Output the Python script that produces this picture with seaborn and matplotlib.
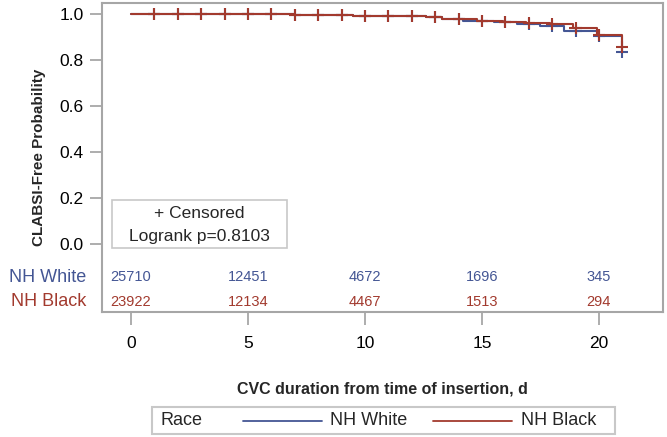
import numpy as np
import pandas as pd
import matplotlib
matplotlib.use("Agg")
import matplotlib.pyplot as plt
from matplotlib.lines import Line2D
from matplotlib.patches import Rectangle
import seaborn as sns

# ---------------- data ----------------
groups = ["NH White", "NH Black"]
colors = {"NH White": "#445694", "NH Black": "#A23A2E"}

white_times = [0, 4, 7, 9.5, 11.3, 12.6, 13.3, 14.2, 15.5, 16.5, 17.5, 18.5, 19.9, 21.0]
white_surv = [1.0, 0.998, 0.995, 0.993, 0.990, 0.985, 0.978, 0.968, 0.964, 0.955, 0.946, 0.928, 0.905, 0.833]
black_times = [0, 4, 7, 9.5, 11.3, 12.6, 13.3, 14.8, 15.9, 16.9, 17.9, 18.9, 19.9, 21.0]
black_surv = [1.0, 0.998, 0.995, 0.993, 0.990, 0.985, 0.979, 0.971, 0.965, 0.962, 0.955, 0.939, 0.910, 0.857]

censor_times = [1, 2, 3, 4, 5, 6, 7, 8, 9, 10, 11, 12, 13, 14, 15, 16, 17, 18, 19, 20, 21]

risk_times = [0, 5, 10, 15, 20]
white_at_risk = [25710, 12451, 4672, 1696, 345]
black_at_risk = [23922, 12134, 4467, 1513, 294]

x_ticks = [0, 5, 10, 15, 20]
y_ticks = [0.0, 0.2, 0.4, 0.6, 0.8, 1.0]

# ---------------- build frames ----------------
curve = pd.concat([
    pd.DataFrame({"t": white_times, "s": white_surv, "Race": "NH White"}),
    pd.DataFrame({"t": black_times, "s": black_surv, "Race": "NH Black"}),
], ignore_index=True)


def surv_at(times, surv, t):
    idx = np.searchsorted(times, t, side="right") - 1
    return surv[idx]


cens = pd.concat([
    pd.DataFrame({"t": censor_times,
                  "s": [surv_at(white_times, white_surv, c) for c in censor_times],
                  "Race": "NH White"}),
    pd.DataFrame({"t": censor_times,
                  "s": [surv_at(black_times, black_surv, c) for c in censor_times],
                  "Race": "NH Black"}),
], ignore_index=True)

# ---------------- plot ----------------
sns.set_style("white")
plt.rcParams["font.family"] = ["Liberation Sans", "DejaVu Sans"]

W, H = 667, 437
fig = plt.figure(figsize=(W / 100, H / 100), dpi=100)
ax = fig.add_axes([102 / W, 1 - 312 / H, (663 - 102) / W, (312 - 2.5) / H])

sns.lineplot(data=curve, x="t", y="s", hue="Race", hue_order=groups, palette=colors,
             drawstyle="steps-post", estimator=None, sort=False, linewidth=1.5,
             legend=False, ax=ax)
sns.scatterplot(data=cens, x="t", y="s", hue="Race", hue_order=groups, palette=colors,
                marker="+", s=75, linewidth=1.5, legend=False, ax=ax, zorder=3)

ax.set_xlim(-1.24, 22.74)
ax.set_ylim(-0.2957, 1.05)
ax.set_xticks(x_ticks)
ax.set_yticks(y_ticks)
ax.set_yticklabels([f"{v:.1f}" for v in y_ticks])
ax.tick_params(axis="both", which="both", bottom=True, left=True, direction="out",
               length=9, width=1.2, color="#A0A0A0", labelsize=12.5,
               labelcolor="black", pad=4)
ax.tick_params(axis="x", pad=8)
for sp in ax.spines.values():
    sp.set_color("#A6A6A6")
    sp.set_linewidth(1.5)
ax.set_xlabel("CVC duration from time of insertion, d", fontsize=11.5, fontweight="bold",
              labelpad=22)
ax.set_ylabel("CLABSI-Free Probability", fontsize=11, fontweight="bold", labelpad=10)

# at-risk table inside the frame
y_white = -0.143
y_black = -0.252
for t, n in zip(risk_times, white_at_risk):
    ax.text(t, y_white, str(n), color=colors["NH White"], fontsize=10.5,
            ha="center", va="center")
for t, n in zip(risk_times, black_at_risk):
    ax.text(t, y_black, str(n), color=colors["NH Black"], fontsize=10.5,
            ha="center", va="center")
fig.text(86 / W, 1 - 277 / H, "NH White", color=colors["NH White"], fontsize=13,
         ha="right", va="center")
fig.text(86 / W, 1 - 302 / H, "NH Black", color=colors["NH Black"], fontsize=13,
         ha="right", va="center")

# inset box
fig.patches.append(Rectangle((112 / W, 1 - 248 / H), (287 - 112) / W, (248 - 200) / H,
                             transform=fig.transFigure, facecolor="white",
                             edgecolor="#C8C8C8", linewidth=1.2, zorder=5))
fig.text(199.5 / W, 1 - 213 / H, "+ Censored", fontsize=12.5, ha="center", va="center",
         zorder=6)
fig.text(199.5 / W, 1 - 236 / H, "Logrank p=0.8103", fontsize=12.5, ha="center",
         va="center", zorder=6)

# legend box at bottom
fig.patches.append(Rectangle((152 / W, 1 - 434 / H), (615 - 152) / W, (434 - 407) / H,
                             transform=fig.transFigure, facecolor="white",
                             edgecolor="#C8C8C8", linewidth=1.5))
ly = 1 - 420.5 / H
fig.text(160 / W, ly, "Race", fontsize=13, ha="left", va="center")
fig.lines.append(Line2D([243 / W, 322 / W], [ly, ly], transform=fig.transFigure,
                        color=colors["NH White"], linewidth=1.3))
fig.text(330 / W, ly, "NH White", fontsize=13, ha="left", va="center")
fig.lines.append(Line2D([433 / W, 512 / W], [ly, ly], transform=fig.transFigure,
                        color=colors["NH Black"], linewidth=1.3))
fig.text(521 / W, ly, "NH Black", fontsize=13, ha="left", va="center")

fig.savefig("out.png", dpi=100)
